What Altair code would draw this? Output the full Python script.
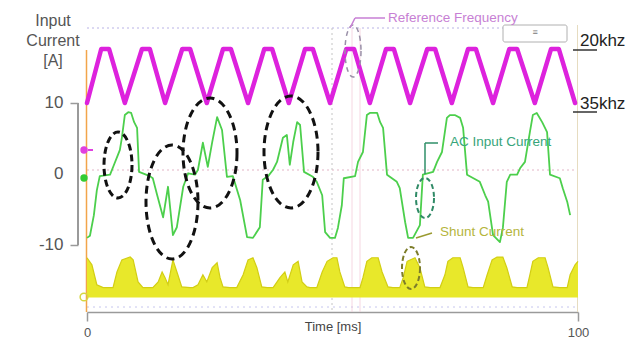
import altair as alt
import pandas as pd

# ---------------- data ----------------
# Reference frequency trace (magenta): time [ms], displayed level
ref_t = [0.0, 2.9, 4.5, 7.7, 11.2, 12.8, 15.9, 19.4, 21.0, 24.4, 27.7, 29.3, 32.8,
         36.1, 37.7, 41.1, 44.4, 46.0, 49.5, 52.8, 54.4, 57.6, 60.9, 62.5, 65.8,
         69.3, 70.9, 74.3, 77.6, 79.2, 82.7, 86.0, 87.6, 91.2, 94.5, 96.1, 99.4]
ref_v = [10.0, 17.6, 17.6, 10.0, 17.6, 17.6, 10.0, 17.6, 17.6, 10.0, 17.6, 17.6, 10.0,
         17.6, 17.6, 10.0, 17.6, 17.6, 10.0, 17.6, 17.6, 10.0, 17.6, 17.6, 10.0,
         17.6, 17.6, 10.0, 17.6, 17.6, 10.0, 17.6, 17.6, 10.0, 17.6, 17.6, 10.0]

# AC input current (green)
ac_t = [0.0, 0.6, 1.4, 2.0, 2.6, 4.7, 5.5, 6.3, 6.7, 7.1, 7.7, 8.4, 9.0, 9.6, 10.2, 10.6,
        12.8, 13.4, 14.3, 15.5, 16.5, 17.5, 18.3, 19.6, 20.6, 22.0, 22.6, 23.6, 24.6, 25.5,
        26.5, 27.5, 28.5, 29.7, 31.2, 32.6, 33.8, 35.2, 35.8, 36.9, 37.9, 38.7, 39.9, 40.7,
        41.3, 42.0, 42.8, 43.4, 44.2, 46.0, 46.8, 47.9, 48.5, 49.5, 50.5, 51.1, 51.9, 52.3,
        54.6, 55.2, 56.2, 57.0, 57.6, 59.1, 59.7, 60.3, 61.1, 63.1, 63.7, 64.8, 65.4, 66.4,
        67.8, 68.4, 70.5, 71.3, 72.3, 73.3, 73.9, 74.9, 76.0, 76.6, 77.4, 80.0, 81.1, 81.7,
        82.7, 84.1, 84.7, 85.5, 86.2, 87.6, 88.2, 89.2, 90.2, 90.8, 91.6, 92.7, 93.7, 94.3,
        96.3, 96.9, 97.8, 98.4]
ac_v = [-9.0, -8.7, -5.8, -2.3, -0.3, -0.1, 1.3, 2.7, 3.4, 5.1, 8.3, 8.7, 8.6, 7.3, 6.5, 0.3,
        -0.3, -0.6, -3.0, -6.1, -1.8, -8.6, -7.5, -1.8, 0.1, -0.1, 0.6, 4.4, 1.0, 4.5,
        8.0, 6.2, -0.4, -0.3, -3.7, -8.9, -9.0, -7.5, -0.8, -0.3, 0.6, 1.7, 5.1, 5.5,
        1.3, 4.5, 7.3, 6.9, 0.3, -0.4, -1.1, -3.0, -8.2, -9.0, -9.0, -7.6, -4.4, -0.6,
        -0.3, 1.7, 3.1, 8.3, 8.6, 8.6, 7.3, 6.5, -0.1, -1.1, -2.0, -6.8, -9.0, -9.0,
        -7.2, -0.1, 0.3, 1.7, 3.1, 7.9, 8.3, 8.3, 7.9, 6.5, -0.1, -1.1, -3.0, -3.9,
        -8.6, -9.6, -7.6, -1.1, -0.1, -0.1, 0.8, 1.7, 5.9, 8.3, 8.6, 7.3, 5.9, -0.1,
        -0.6, -2.0, -3.9, -5.8]

# Shunt current (yellow band): upper envelope, common lower edge
sh_t = [0.0, 1.0, 2.0, 3.3, 5.3, 6.1, 7.1, 8.8, 9.4, 10.4, 11.4, 13.4, 14.5, 15.3, 15.9,
        16.5, 17.5, 18.5, 19.3, 21.0, 21.6, 22.6, 23.6, 24.4, 25.5, 26.5, 27.1, 27.7,
        29.1, 30.5, 31.8, 32.8, 33.8, 34.6, 35.6, 36.7, 37.9, 39.3, 40.3, 40.9, 42.0,
        43.0, 43.8, 44.8, 45.4, 46.8, 47.9, 48.9, 50.1, 50.9, 51.5, 52.5, 53.2, 55.6,
        56.2, 57.0, 58.0, 59.3, 60.1, 61.3, 62.3, 63.7, 64.4, 65.2, 66.8, 67.8, 68.8,
        69.9, 71.9, 72.9, 73.5, 74.5, 76.0, 76.6, 77.6, 78.6, 80.7, 81.5, 82.5, 83.5,
        84.7, 85.5, 86.6, 87.6, 89.6, 90.2, 90.8, 91.9, 93.3, 93.9, 94.9, 96.3, 97.8,
        98.4, 99.4, 100.0]
sh_hi = [-11.8, -12.8, -15.6, -16.0, -16.0, -13.8, -12.1, -11.7, -12.1, -15.2, -16.0, -16.0,
         -15.2, -13.8, -14.6, -15.6, -12.1, -14.2, -15.9, -16.0, -16.0, -15.6, -14.2, -15.2,
         -13.2, -12.5, -14.6, -15.9, -16.0, -16.0, -14.2, -12.1, -11.8, -13.2, -15.9, -16.0,
         -16.0, -14.6, -13.8, -15.2, -12.8, -12.3, -15.2, -15.9, -16.0, -16.0, -13.8, -12.3,
         -11.8, -11.8, -13.8, -15.9, -16.0, -16.0, -14.6, -12.3, -11.8, -11.8, -13.8, -15.9,
         -16.0, -16.0, -14.6, -12.3, -11.8, -13.2, -15.9, -16.0, -16.0, -14.2, -12.3, -11.8,
         -11.8, -13.2, -15.9, -16.0, -16.0, -14.2, -12.1, -11.7, -11.7, -13.2, -15.9, -16.0,
         -16.0, -14.2, -12.3, -11.8, -11.8, -13.2, -15.9, -16.0, -16.0, -14.2, -12.8, -12.3]
sh_lo = -17.4

x_ticks = [0, 100]
y_ticks = [10, 0, -10]

assert len(ref_t) == len(ref_v)
assert len(ac_t) == len(ac_v)
assert len(sh_t) == len(sh_hi)

# ---------------- layout ----------------
X0, Y0 = 87, 8          # plot origin in the page
W, H = 491, 304
FONT = "Liberation Sans"

xs = alt.Scale(domain=[0, 100], nice=False, zero=False)
ys = alt.Scale(domain=[-19.44, 23.38], nice=False, zero=False)

x_axis = alt.Axis(values=x_ticks, title=None, grid=False, domainColor="#9a9a9a", domainWidth=1.5,
                  tickColor="#9a9a9a", tickWidth=1.5, tickSize=9, labelFontSize=13,
                  labelColor="#555555", labelPadding=5, labelFont=FONT, labelFlush=False)
y_axis = alt.Axis(values=y_ticks, title=None, grid=False, domain=False, offset=9,
                  tickColor="#9a9a9a", tickWidth=1.5, tickSize=8,
                  tickOpacity={"condition": {"test": "datum.value === 0", "value": 0}, "value": 1},
                  labelExpr="replace(datum.label, '\u2212', '-')",
                  labelFontSize=17, labelColor="#555555", labelPadding=7, labelFont=FONT)

X = alt.X("t:Q", scale=xs, axis=x_axis)
Y = alt.Y("v:Q", scale=ys, axis=y_axis)

ref_df = pd.DataFrame({"t": ref_t, "v": ref_v})
ac_df = pd.DataFrame({"t": ac_t, "v": ac_v})
sh_df = pd.DataFrame({"t": sh_t, "v": sh_hi, "lo": [sh_lo] * len(sh_t)})
one = pd.DataFrame({"k": [0]})


def px(x):
    return alt.value(x - X0)


def py(y):
    return alt.value(y - Y0)


def rule(x1, y1, x2, y2, color, width=1.0, dash=None, opacity=1.0):
    kw = dict(color=color, strokeWidth=width, opacity=opacity)
    if dash:
        kw["strokeDash"] = dash
    return alt.Chart(one).mark_rule(**kw).encode(x=px(x1), y=py(y1), x2=px(x2), y2=py(y2))


def label(x, y, s, color, size=13, align="left", weight="normal", font=FONT):
    return alt.Chart(one).mark_text(align=align, baseline="middle", fontSize=size, color=color,
                                    font=font, fontWeight=weight).encode(
        x=px(x), y=py(y), text=alt.value(s))


def ellipse(cx, cy, rx, ry, color, dash, width):
    a = rx / ry
    k = 0.5523
    path = (f"M {a:.4f} 0 C {a:.4f} {k:.4f} {k*a:.4f} 1 0 1 "
            f"C {-k*a:.4f} 1 {-a:.4f} {k:.4f} {-a:.4f} 0 "
            f"C {-a:.4f} {-k:.4f} {-k*a:.4f} -1 0 -1 "
            f"C {k*a:.4f} -1 {a:.4f} {-k:.4f} {a:.4f} 0 Z")
    return alt.Chart(one).mark_point(shape=path, size=4 * ry * ry, filled=False, stroke=color,
                                     strokeWidth=width, strokeDash=dash, opacity=1).encode(
        x=px(cx), y=py(cy))


layers = []

# background guide lines
layers += [
    rule(87, 28, 503, 28, "#b9b2e6", 1, [2, 3]),
    rule(87, 170, 577, 170, "#e3b5c6", 1, [2, 3]),
    rule(87, 307, 577, 307, "#c6c6ee", 1, [2, 4]),
    rule(332, 28, 332, 312, "#c4c4c4", 1, [2, 3]),
    rule(352, 28, 352, 312, "#f2c6d6", 1, None, 0.7),
    rule(360, 28, 360, 312, "#f2c6d6", 1, None, 0.7),
    rule(577.5, 25, 577.5, 312, "#e6dcc0", 1),
    rule(86.5, 50, 86.5, 312, "#f2a54a", 1.5),
]

# shunt current band
layers.append(alt.Chart(sh_df).mark_area(color="#e8e82a", opacity=1,
                                         line={"color": "#d2ce14", "strokeWidth": 1.2}).encode(
    x=X, y=Y, y2="lo:Q"))

# reference frequency
layers.append(alt.Chart(ref_df).mark_line(color="#dd22dd", strokeWidth=4.5, strokeJoin="round",
                                          strokeCap="round").encode(x=X, y=Y))

# AC input current
layers.append(alt.Chart(ac_df).mark_line(color="#4ccf4c", strokeWidth=1.8, strokeJoin="round").encode(x=X, y=Y))

# y axis bracket
layers.append(rule(78, 103, 78, 245, "#9a9a9a", 2))

# channel markers on the left
layers += [
    alt.Chart(one).mark_point(filled=True, size=55, color="#e040e0", opacity=1).encode(x=px(84), y=py(150)),
    rule(88, 150, 93, 150, "#e040e0", 2),
    alt.Chart(one).mark_point(filled=True, size=55, color="#33cc33", opacity=1).encode(x=px(84), y=py(178)),
    alt.Chart(one).mark_point(filled=False, size=60, color="#d6d640", strokeWidth=1.5, opacity=1).encode(x=px(84), y=py(297)),
]

# highlight ellipses
layers += [
    ellipse(118, 165, 14, 33, "#111111", [7, 4], 3),
    ellipse(172, 202, 26, 57, "#111111", [8, 5], 3),
    ellipse(210, 153, 27, 55, "#111111", [8, 5], 3),
    ellipse(291, 152, 27, 56, "#111111", [8, 5], 3),
    ellipse(353, 51, 8, 26, "#9a90a8", [5, 4], 1.5),
    ellipse(425, 198, 9, 20, "#2f8a66", [5, 3], 2),
    ellipse(411, 268, 9, 21, "#7d7d2a", [5, 3], 2),
]

# annotation pointers
layers += [
    rule(350, 28, 355, 18, "#c77fd4", 1.5),
    rule(355, 18, 385, 18, "#c77fd4", 1.5),
    rule(425, 174, 425, 143, "#2f8f68", 1.5),
    rule(425, 143, 438, 143, "#2f8f68", 1.5),
    rule(416, 238, 432, 233, "#9a9a30", 1.5),
    rule(573, 50, 597, 50, "#333333", 1.5),
    rule(573, 112, 597, 112, "#333333", 1.5),
]

# small legend box at the top right
layers.append(alt.Chart(one).mark_rect(fill="white", stroke="#b0b0b0", strokeWidth=1, cornerRadius=2).encode(
    x=px(503), x2=px(567), y=py(25), y2=py(42)))

# texts
layers += [
    label(53, 21, "Input", "#555555", 16, "center"),
    label(53, 41, "Current", "#555555", 16, "center"),
    label(53, 61, "[A]", "#555555", 16, "center"),
    label(388, 18, "Reference Frequency", "#c77fd4", 13.5),
    label(450, 142, "AC Input Current", "#37a57a", 13.5),
    label(440, 232, "Shunt Current", "#b5b53c", 13.5),
    label(580, 41, "20khz", "#222222", 17),
    label(580, 104, "35khz", "#222222", 17),
    label(333, 327, "Time [ms]", "#444444", 13, "center"),
    label(535, 32, "\u2261", "#777777", 9, "center"),
]

chart = alt.layer(*layers).properties(
    width=W, height=H,
    padding={"left": X0, "top": Y0, "right": 643 - X0 - W, "bottom": 348 - Y0 - H},
    autosize=alt.AutoSizeParams(type="none"),
    background="white",
).configure_view(stroke=None)

chart.save("out.html", embed_options={"renderer": "svg", "actions": False})
